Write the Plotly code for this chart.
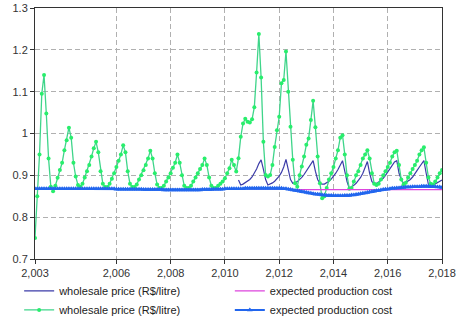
import plotly.graph_objects as go

# ---------------- data (monthly, 2003.0 .. 2018.0) ----------------
start_year = 2003
n_months = 181

wholesale_markers = [
    # 2003
    0.75, 0.85, 0.95, 1.095, 1.14, 1.048, 0.94, 0.873, 0.862, 0.875, 0.894, 0.913,
    # 2004
    0.93, 0.96, 0.984, 1.014, 0.99, 0.93, 0.897, 0.877, 0.873, 0.88, 0.895, 0.91,
    # 2005
    0.925, 0.945, 0.965, 0.98, 0.955, 0.91, 0.88, 0.872, 0.872, 0.88, 0.892, 0.905,
    # 2006
    0.92, 0.935, 0.95, 0.972, 0.955, 0.91, 0.88, 0.872, 0.872, 0.878, 0.89, 0.9,
    # 2007
    0.912, 0.925, 0.94, 0.959, 0.94, 0.905, 0.878, 0.87, 0.87, 0.875, 0.885, 0.895,
    # 2008
    0.905, 0.918, 0.93, 0.95, 0.93, 0.9, 0.875, 0.87, 0.87, 0.875, 0.885, 0.895,
    # 2009
    0.905, 0.915, 0.925, 0.94, 0.925, 0.895, 0.875, 0.87, 0.87, 0.875, 0.88, 0.885,
    # 2010
    0.893, 0.905, 0.917, 0.937, 0.925, 0.909, 0.941, 0.992, 1.024, 1.035, 1.028, 1.026,
    # 2011
    1.034, 1.063, 1.146, 1.238, 1.134, 0.98, 0.901, 0.897, 0.901, 0.925, 0.968, 1.008,
    # 2012
    1.04, 1.12, 1.128, 1.196, 1.1, 1.016, 0.937, 0.881, 0.873, 0.9, 0.921, 0.945,
    # 2013
    0.973, 0.988, 1.032, 1.078, 1.015, 0.945, 0.881, 0.845, 0.85, 0.87, 0.89, 0.905,
    # 2014
    0.92, 0.94, 0.96, 0.99, 0.996, 0.95, 0.9, 0.868, 0.87, 0.885, 0.9, 0.91,
    # 2015
    0.925, 0.94, 0.95, 0.96, 0.94, 0.905, 0.88, 0.877, 0.88, 0.89, 0.9, 0.91,
    # 2016
    0.92, 0.93, 0.945, 0.955, 0.959, 0.925, 0.89, 0.878, 0.882, 0.895, 0.905, 0.915,
    # 2017
    0.925, 0.935, 0.95, 0.96, 0.967, 0.93, 0.895, 0.88, 0.878, 0.885, 0.895, 0.905,
    # 2018
    0.913,
]

wholesale_line_start = 90  # month index (mid 2010)
wholesale_line = [
    0.889, 0.877, 0.879, 0.882, 0.886, 0.89,
    0.896, 0.904, 0.915, 0.928, 0.937, 0.915, 0.89, 0.877, 0.879, 0.882, 0.886, 0.891,
    0.898, 0.907, 0.92, 0.938, 0.91, 0.89, 0.881, 0.882, 0.885, 0.889, 0.895, 0.902,
    0.91, 0.918, 0.926, 0.935, 0.91, 0.89, 0.881, 0.879, 0.879, 0.882, 0.886, 0.891,
    0.897, 0.905, 0.914, 0.925, 0.935, 0.91, 0.885, 0.869, 0.872, 0.876, 0.881, 0.887,
    0.895, 0.905, 0.918, 0.933, 0.905, 0.885, 0.881, 0.881, 0.884, 0.888, 0.893, 0.9,
    0.908, 0.916, 0.925, 0.932, 0.935, 0.905, 0.89, 0.881, 0.883, 0.886, 0.89, 0.896,
    0.903, 0.912, 0.92, 0.928, 0.935, 0.905, 0.878, 0.873, 0.876, 0.879, 0.882, 0.886,
    0.889,
]

cost_markers = [
    0.868, 0.868, 0.868, 0.868, 0.868, 0.868, 0.868, 0.868, 0.868, 0.868, 0.868, 0.868,
    0.868, 0.868, 0.868, 0.868, 0.868, 0.868, 0.868, 0.868, 0.868, 0.868, 0.868, 0.868,
    0.868, 0.868, 0.868, 0.868, 0.868, 0.868, 0.868, 0.868, 0.868, 0.868, 0.868, 0.868,
    0.867, 0.867, 0.867, 0.867, 0.867, 0.867, 0.867, 0.867, 0.867, 0.867, 0.867, 0.867,
    0.866, 0.866, 0.866, 0.866, 0.866, 0.866, 0.866, 0.866, 0.866, 0.865, 0.865, 0.865,
    0.865, 0.865, 0.865, 0.865, 0.865, 0.865, 0.865, 0.865, 0.865, 0.865, 0.865, 0.865,
    0.865, 0.865, 0.866, 0.866, 0.866, 0.866, 0.866, 0.867, 0.867, 0.867, 0.867, 0.867,
    0.868, 0.868, 0.868, 0.868, 0.868, 0.868, 0.868, 0.868, 0.868, 0.869, 0.869, 0.869,
    0.869, 0.869, 0.869, 0.869, 0.869, 0.869, 0.869, 0.869, 0.869, 0.869, 0.869, 0.869,
    0.869, 0.869, 0.868, 0.868, 0.867, 0.866, 0.865, 0.864, 0.863, 0.862, 0.861, 0.86,
    0.859, 0.858, 0.857, 0.856, 0.855, 0.855, 0.854, 0.853, 0.853, 0.852, 0.852, 0.852,
    0.851, 0.851, 0.851, 0.851, 0.851, 0.852, 0.852, 0.852, 0.853, 0.853, 0.854, 0.855,
    0.856, 0.857, 0.858, 0.859, 0.86, 0.861, 0.862, 0.863, 0.864, 0.865, 0.866, 0.867,
    0.867, 0.868, 0.869, 0.869, 0.87, 0.87, 0.871, 0.871, 0.872, 0.872, 0.872, 0.873,
    0.873, 0.873, 0.873, 0.874, 0.874, 0.874, 0.874, 0.873, 0.873, 0.873, 0.872, 0.872,
    0.871,
]

cost_line_start = 84  # month index (2010)
cost_line = [
    0.868, 0.868, 0.868, 0.868, 0.868, 0.868, 0.868, 0.868, 0.868, 0.868, 0.868, 0.868,
    0.868, 0.868, 0.868, 0.868, 0.868, 0.868, 0.868, 0.868, 0.868, 0.868, 0.868, 0.868,
    0.867, 0.867, 0.867, 0.867, 0.867, 0.867, 0.866, 0.866, 0.866, 0.866, 0.866, 0.866,
    0.866, 0.866, 0.866, 0.866, 0.866, 0.866, 0.866, 0.866, 0.866, 0.866, 0.866, 0.866,
    0.866, 0.866, 0.866, 0.866, 0.866, 0.866, 0.866, 0.866, 0.866, 0.866, 0.866, 0.866,
    0.866, 0.866, 0.866, 0.866, 0.866, 0.866, 0.866, 0.866, 0.866, 0.866, 0.866, 0.866,
    0.866, 0.866, 0.866, 0.866, 0.866, 0.866, 0.866, 0.866, 0.866, 0.866, 0.866, 0.866,
    0.866, 0.866, 0.866, 0.866, 0.866, 0.866, 0.866, 0.866, 0.866, 0.866, 0.866, 0.866,
    0.866,
]

x_tick_values = [2003, 2006, 2008, 2010, 2012, 2014, 2016, 2018]
x_tick_labels = ["2,003", "2,006", "2,008", "2,010", "2,012", "2,014", "2,016", "2,018"]

series_names = ["wholesale price (R$/litre)", "expected production cost"]

# ---------------- figure ----------------
time = [start_year + i / 12 for i in range(n_months)]

fig = go.Figure()

fig.add_trace(go.Scatter(
    x=time[wholesale_line_start:wholesale_line_start + len(wholesale_line)],
    y=wholesale_line, mode="lines", name=series_names[0],
    line=dict(color="#3b3ba8", width=1.2), legend="legend", legendrank=1,
))
fig.add_trace(go.Scatter(
    x=time[:len(wholesale_markers)], y=wholesale_markers, mode="lines+markers",
    name=series_names[0],
    line=dict(color="#3fd58a", width=1.3),
    marker=dict(color="#28ee6c", size=4, symbol="circle"), legend="legend", legendrank=2,
))
fig.add_trace(go.Scatter(
    x=time[cost_line_start:cost_line_start + len(cost_line)],
    y=cost_line, mode="lines", name=series_names[1],
    line=dict(color="#dd44dd", width=1.2), legend="legend2", legendrank=1,
))
fig.add_trace(go.Scatter(
    x=time[:len(cost_markers)], y=cost_markers, mode="lines+markers",
    name=series_names[1],
    line=dict(color="#2266ee", width=2),
    marker=dict(color="#2266ee", size=5, symbol="triangle-up"), legend="legend2", legendrank=2,
))

axis_font = dict(family="Liberation Sans, Arial, sans-serif", size=11, color="#333")
legend_font = dict(family="Liberation Sans, Arial, sans-serif", size=11, color="#222")

legend_common = dict(
    orientation="v", xref="container", yref="container",
    xanchor="left", y=0.139, yanchor="top",
    font=legend_font, bgcolor="rgba(0,0,0,0)", tracegroupgap=0,
)

fig.update_layout(
    width=456, height=321,
    margin=dict(l=35, r=14, t=8, b=62, autoexpand=False),
    paper_bgcolor="white", plot_bgcolor="white",
    font=axis_font,
    showlegend=True,
    legend=dict(x=0.042, **legend_common),
    legend2=dict(x=0.504, **legend_common),
    xaxis=dict(
        range=[2003, 2018], tickmode="array", tickvals=x_tick_values, ticktext=x_tick_labels,
        showgrid=True, gridcolor="#b0b0b0", griddash="5px,3px", gridwidth=1,
        showline=True, linecolor="#333", linewidth=1, mirror=True,
        ticks="outside", ticklen=4, tickcolor="#333", zeroline=False,
        tickfont=axis_font,
    ),
    yaxis=dict(
        range=[0.7, 1.3], dtick=0.1, tick0=0.7,
        showgrid=True, gridcolor="#b0b0b0", griddash="5px,3px", gridwidth=1,
        showline=True, linecolor="#333", linewidth=1, mirror=True,
        ticks="outside", ticklen=4, tickcolor="#333", zeroline=False,
        tickfont=axis_font,
    ),
)

fig.write_html(
    "out.html",
    config={"displayModeBar": False},
    post_script="document.body.style.margin='0';",
)
